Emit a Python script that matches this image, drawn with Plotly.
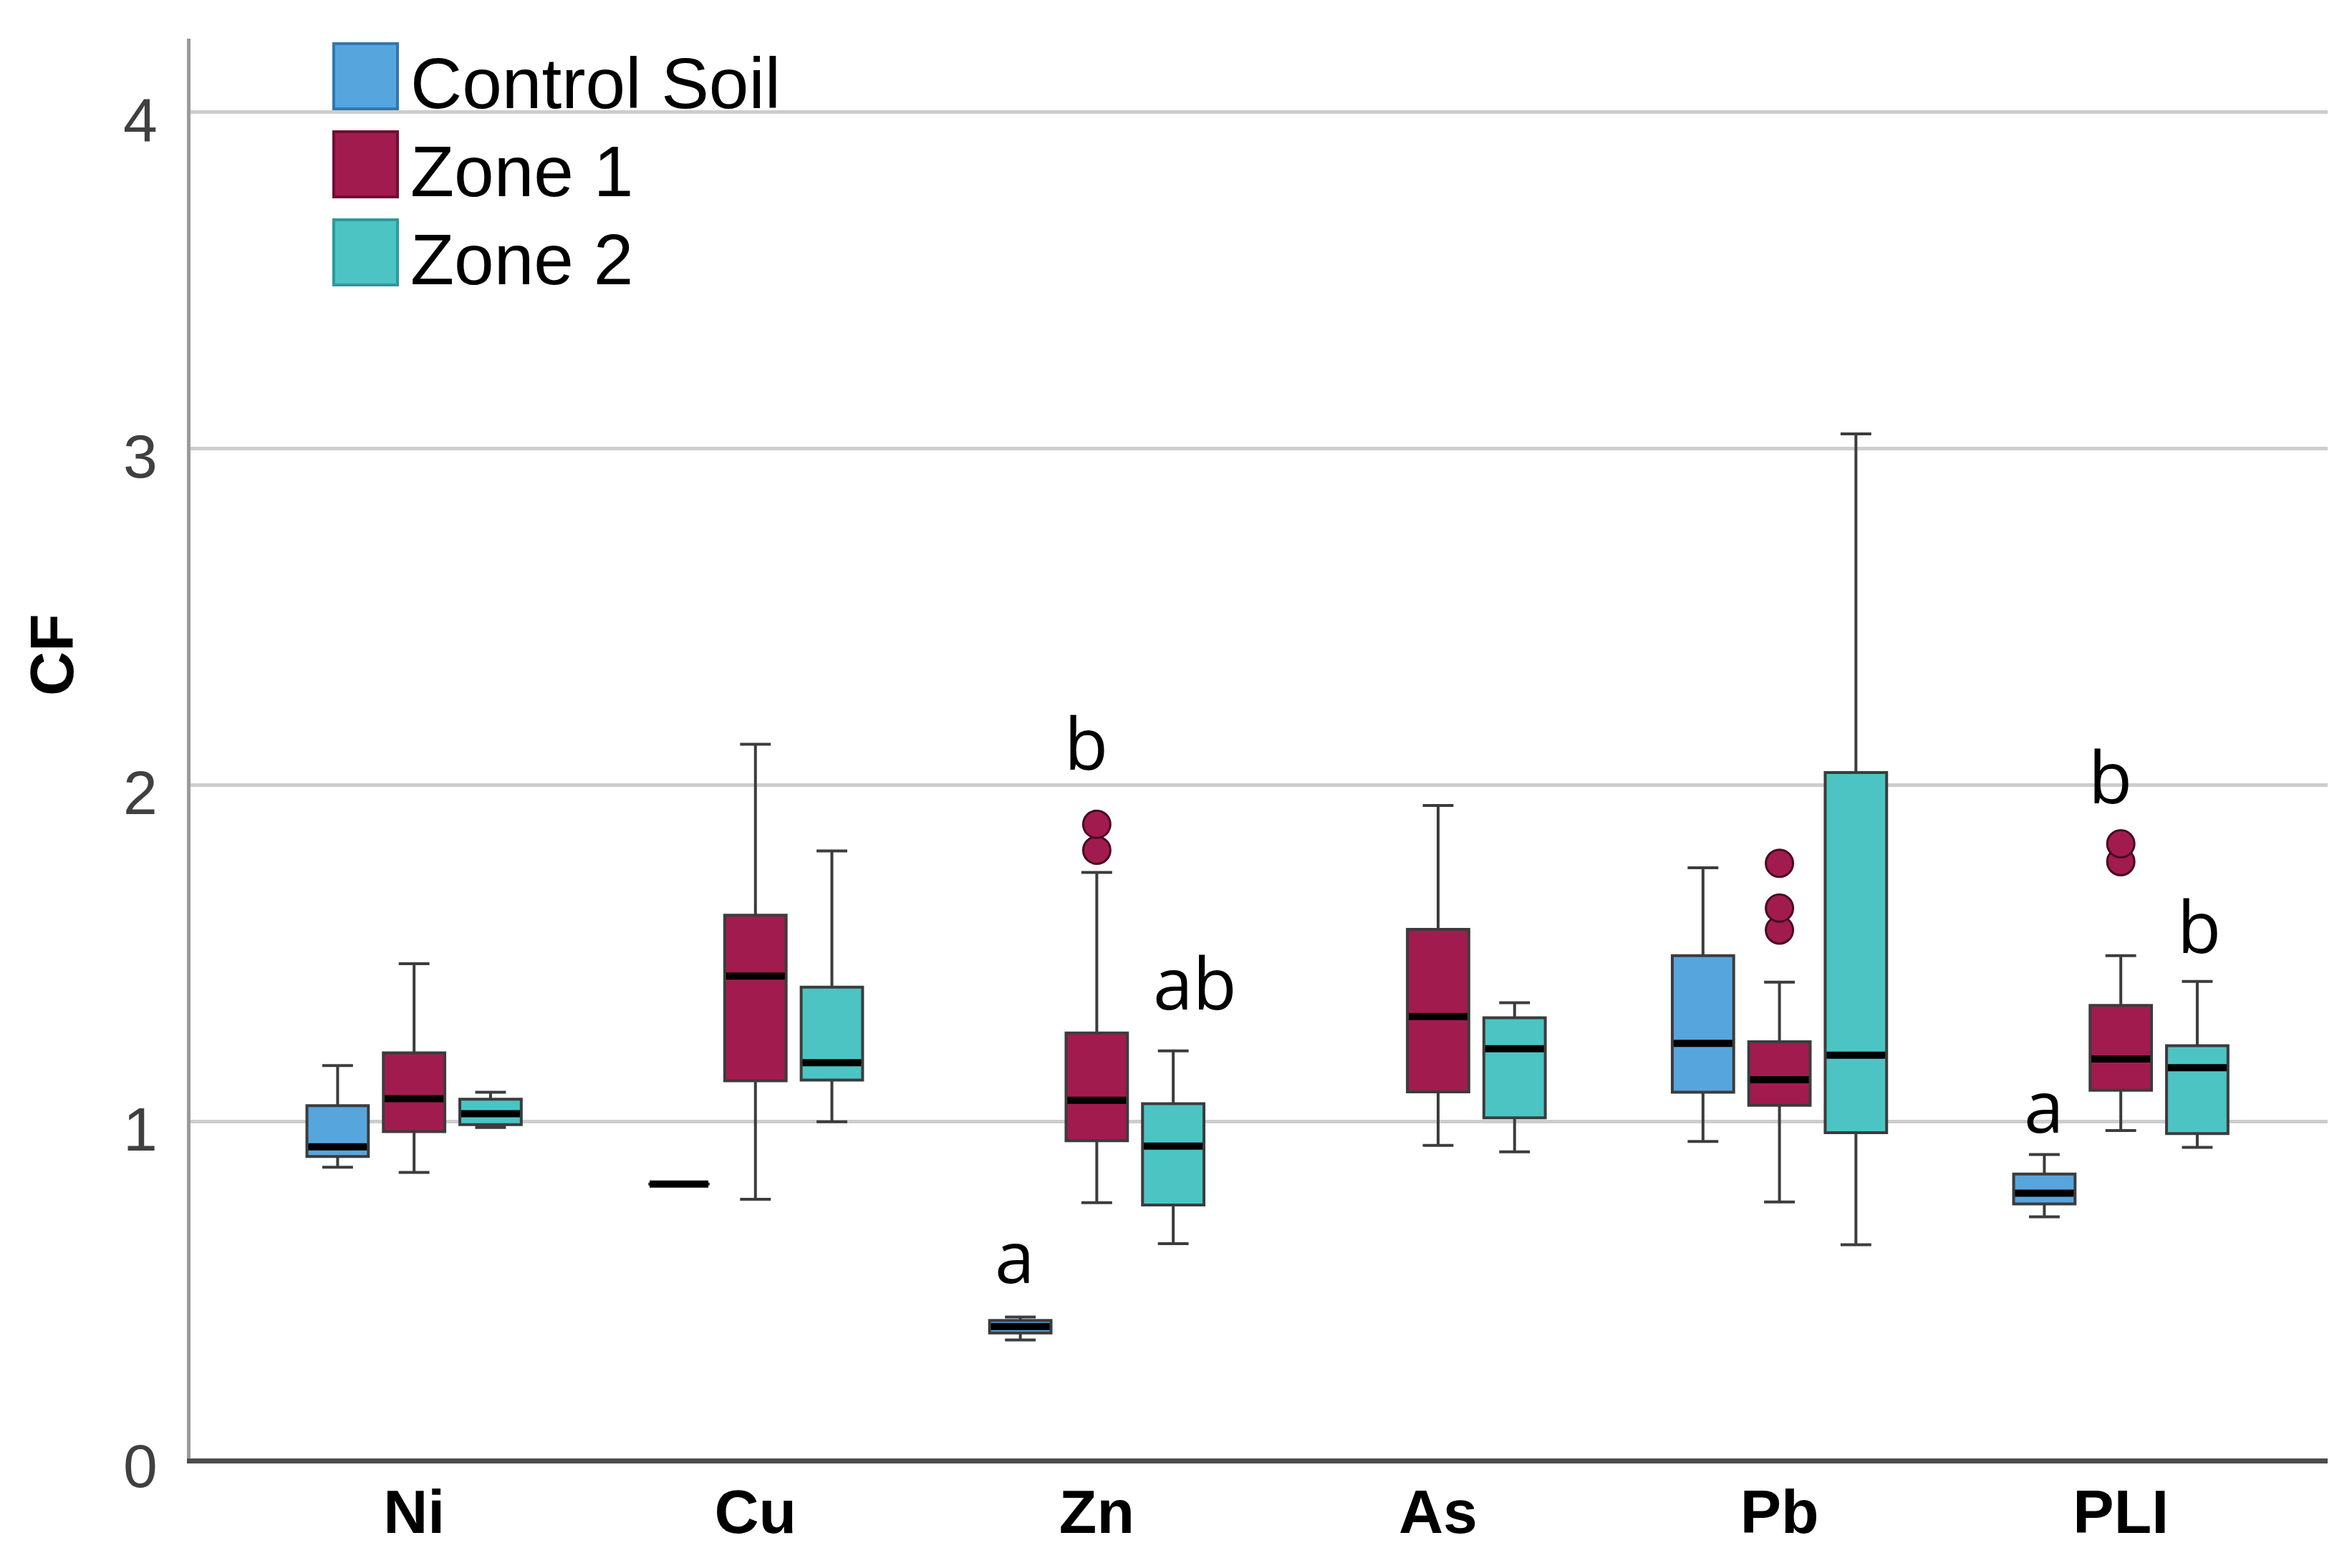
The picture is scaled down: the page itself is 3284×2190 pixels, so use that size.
import plotly.graph_objects as go

# ---------------- data ----------------
categories = ["Ni", "Cu", "Zn", "As", "Pb", "PLI"]
series_names = ["Control Soil", "Zone 1", "Zone 2"]

control_lo  = [0.865, 0.815, 0.352, None, 0.942, 0.718]
control_q1  = [0.897, 0.815, 0.373, None, 1.088, 0.756]
control_med = [0.926, 0.815, 0.392, None, 1.233, 0.788]
control_q3  = [1.048, 0.815, 0.410, None, 1.494, 0.845]
control_hi  = [1.167, 0.815, 0.420, None, 1.755, 0.903]

zone1_lo  = [0.850, 0.770, 0.760, 0.930, 0.762, 0.974]
zone1_q1  = [0.971, 1.122, 0.944, 1.089, 1.049, 1.094]
zone1_med = [1.069, 1.433, 1.064, 1.313, 1.125, 1.187]
zone1_q3  = [1.205, 1.614, 1.264, 1.572, 1.238, 1.346]
zone1_hi  = [1.470, 2.122, 1.741, 1.940, 1.415, 1.494]

zone2_lo  = [0.983, 1.000, 0.638, 0.911, 0.635, 0.924]
zone2_q1  = [0.992, 1.124, 0.753, 1.012, 0.968, 0.965]
zone2_med = [1.024, 1.176, 0.928, 1.217, 1.198, 1.161]
zone2_q3  = [1.067, 1.400, 1.054, 1.309, 2.038, 1.226]
zone2_hi  = [1.088, 1.805, 1.211, 1.354, 3.044, 1.417]

# outliers (Zone 1)
outlier_cat = ["Zn", "Zn", "Pb", "Pb", "Pb", "PLI", "PLI"]
outlier_val = [1.807, 1.884, 1.570, 1.635, 1.768, 1.773, 1.826]

# significance letters
letter_text   = ["a", "b", "ab", "a", "b", "b"]
letter_cat    = ["Zn", "Zn", "Zn", "PLI", "PLI", "PLI"]
letter_series = [0, 1, 2, 0, 1, 2]
letter_y      = [0.604, 2.13, 1.417, 1.051, 2.03, 1.585]

y_ticks = [0, 1, 2, 3, 4]

# ---------------- styling ----------------
W, H = 3284, 2190
ML, MR, MT, MB = 258, 42, 46, 161
fills = ["#56A6DD", "#A21B4F", "#4CC4C4"]
borders = ["#2F78B0", "#6E0F33", "#2C9A9A"]
offsets = [-0.224, 0.0, 0.224]
BOXW = 0.18
letter_xshift = [-8, -15, 30, 0, -15, 3]

series = [
    (control_lo, control_q1, control_med, control_q3, control_hi),
    (zone1_lo, zone1_q1, zone1_med, zone1_q3, zone1_hi),
    (zone2_lo, zone2_q1, zone2_med, zone2_q3, zone2_hi),
]

fig = go.Figure()

for s, (lo, q1, med, q3, hi) in enumerate(series):
    xs, L, Q1, M, Q3, Hh = [], [], [], [], [], []
    for i in range(len(categories)):
        if med[i] is None:
            continue
        xs.append(i + offsets[s])
        L.append(lo[i]); Q1.append(q1[i]); M.append(med[i]); Q3.append(q3[i]); Hh.append(hi[i])
    fig.add_trace(go.Box(
        x=xs, q1=Q1, median=M, q3=Q3, lowerfence=L, upperfence=Hh,
        width=BOXW, whiskerwidth=0.5, boxpoints=False,
        fillcolor=fills[s], line=dict(color="#3c3c3c", width=4),
        name=series_names[s], showlegend=False, hoverinfo="skip",
    ))
    # thick black median bars
    mx, my = [], []
    for x, m in zip(xs, M):
        mx += [x - BOXW / 2 + 0.004, x + BOXW / 2 - 0.004, None]
        my += [m, m, None]
    fig.add_trace(go.Scatter(x=mx, y=my, mode="lines",
                             line=dict(color="black", width=10),
                             showlegend=False, hoverinfo="skip"))

# outliers
fig.add_trace(go.Scatter(
    x=[categories.index(c) + offsets[1] for c in outlier_cat], y=outlier_val,
    mode="markers",
    marker=dict(size=38, color=fills[1], line=dict(color="#4a0a20", width=3)),
    showlegend=False, hoverinfo="skip"))

annotations = []
for t, c, s, yv, dx in zip(letter_text, letter_cat, letter_series, letter_y, letter_xshift):
    annotations.append(dict(
        x=categories.index(c) + offsets[s], y=yv, xref="x", yref="y",
        text=t, showarrow=False, xshift=dx, xanchor="center", yanchor="middle",
        font=dict(family="Open Sans", size=100, color="black")))

# y-axis title
annotations.append(dict(
    x=(64 - ML) / (W - ML - MR), y=(H - MB - 907) / (H - MT - MB),
    xref="paper", yref="paper", text="<b>CF</b>", textangle=-90,
    xanchor="center", yanchor="middle",
    showarrow=False, font=dict(family="Liberation Sans", size=86, color="black")))

# manual legend
def px(xp):
    return (xp - ML) / (W - ML - MR)

def py(yp):
    return (H - MB - yp) / (H - MT - MB)

shapes = []
legend_tops = [53, 176, 299]
for s, top in enumerate(legend_tops):
    shapes.append(dict(type="rect", xref="paper", yref="paper",
                       x0=px(458), x1=px(547), y0=py(top + 91), y1=py(top),
                       fillcolor=fills[s], line=dict(color=borders[s], width=4)))
    annotations.append(dict(
        x=px(563), y=py(top + 91 - 36), xref="paper", yref="paper",
        text=series_names[s], showarrow=False, xanchor="left", yanchor="middle",
        font=dict(family="Liberation Sans", size=100, color="black")))

fig.update_layout(
    width=W, height=H,
    margin=dict(l=ML, r=MR, t=MT, b=MB),
    plot_bgcolor="white", paper_bgcolor="white",
    showlegend=False,
    annotations=annotations, shapes=shapes,
    xaxis=dict(range=[-0.655, 5.606], tickvals=list(range(len(categories))),
               ticktext=["<b>%s</b>" % c for c in categories],
               tickfont=dict(family="Liberation Sans", size=86, color="black"),
               showgrid=False, zeroline=False, showline=True,
               linecolor="#4d4d4d", linewidth=7, ticks="",
               ticklabelstandoff=-6),
    yaxis=dict(range=[0, 4.218], tickvals=y_ticks,
               tickfont=dict(family="Liberation Sans", size=86, color="#404040"),
               showgrid=True, gridcolor="#cdcdcd", gridwidth=5,
               zeroline=False, showline=True, linecolor="#9a9a9a", linewidth=5,
               ticks="", ticklabelstandoff=24, ticklabelshift=10),
)

fig.write_html("out.html")
